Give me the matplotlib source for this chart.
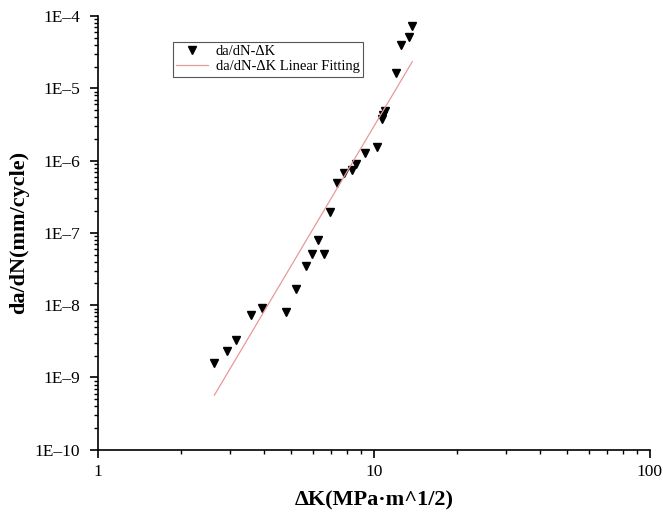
import numpy as np
import matplotlib
matplotlib.use('Agg')
import matplotlib.pyplot as plt
from matplotlib.ticker import LogLocator, FuncFormatter, NullFormatter

plt.rcParams['font.family'] = ['Liberation Serif', 'DejaVu Serif']

# stress intensity factor range, MPa*m^1/2
delta_k = [2.64, 2.93, 3.16, 3.58, 3.92, 4.81, 5.23, 5.67, 5.98, 6.28,
           6.57, 6.93, 7.33, 7.82, 8.35, 8.62, 9.26, 10.23, 10.66, 10.82,
           10.96, 12.02, 12.52, 13.43, 13.77]
# crack growth rate, mm/cycle
da_dn = [1.60e-9, 2.33e-9, 3.30e-9, 7.25e-9, 9.06e-9, 8.05e-9, 1.66e-8,
         3.54e-8, 5.06e-8, 7.98e-8, 5.06e-8, 1.93e-7, 4.95e-7, 6.80e-7,
         7.37e-7, 8.89e-7, 1.26e-6, 1.54e-6, 3.76e-6, 4.28e-6, 4.85e-6,
         1.65e-5, 3.97e-5, 5.07e-5, 7.28e-5]

# Paris law fit: log(da/dN) = fit_b + fit_m * log(dK)
fit_m = 6.43
fit_b = -11.955

x = np.array(delta_k)
y = np.array(da_dn)
xf = np.array([x.min(), x.max()])
yf = 10 ** (fit_b + fit_m * np.log10(xf))

fig = plt.figure(figsize=(6.63, 5.17), dpi=100)
ax = fig.add_axes([0.148, 0.130, 0.832, 0.839])

ax.plot(x, y, linestyle='none', marker='v', color='black', markersize=6,
        label='da/dN-ΔK')
ax.plot(xf, yf, color='#e69a9a', linewidth=0.9,
        label='da/dN-ΔK Linear Fitting')

ax.set_xscale('log')
ax.set_yscale('log')
ax.set_xlim(1, 100)
ax.set_ylim(1e-10, 1e-4)

for side in ['top', 'right']:
    ax.spines[side].set_visible(False)
for side in ['left', 'bottom']:
    ax.spines[side].set_linewidth(1.2)

ax.xaxis.set_major_locator(LogLocator(base=10, numticks=10))
ax.xaxis.set_minor_locator(LogLocator(base=10, subs=np.arange(2, 10), numticks=20))
ax.yaxis.set_major_locator(LogLocator(base=10, numticks=10))
ax.yaxis.set_minor_locator(LogLocator(base=10, subs=np.arange(2, 10), numticks=20))
ax.xaxis.set_major_formatter(FuncFormatter(lambda v, p: '%g' % v))
ax.yaxis.set_major_formatter(
    FuncFormatter(lambda v, p: '1E\u2013%d' % -int(round(np.log10(v)))))
ax.xaxis.set_minor_formatter(NullFormatter())
ax.yaxis.set_minor_formatter(NullFormatter())

ax.tick_params(which='major', direction='out', length=6, width=1.2,
               labelsize=12.5, pad=4)
ax.tick_params(axis='y', which='major', pad=7)
ax.tick_params(which='minor', direction='out', length=3, width=1.0)

ax.set_xlabel('ΔK(MPa·m^1/2)', fontsize=16, fontweight='bold', labelpad=8)
ax.set_ylabel('da/dN(mm/cycle)', fontsize=16, fontweight='bold', labelpad=4)

leg = ax.legend(loc='upper left', bbox_to_anchor=(0.135, 0.941),
                borderaxespad=0, fontsize=10.5, fancybox=False,
                edgecolor='#555555', framealpha=1, handlelength=2.2,
                handletextpad=0.5, borderpad=0.25, labelspacing=0.1)
leg.get_frame().set_linewidth(0.8)

fig.savefig('out.png', dpi=100)
